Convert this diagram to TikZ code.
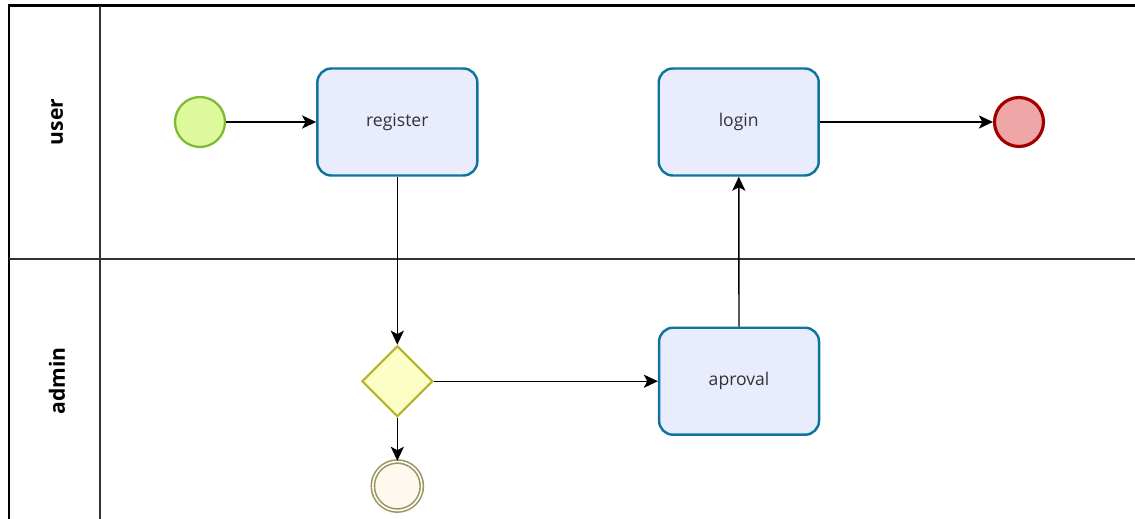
\documentclass[tikz,border=0pt]{standalone}
\usepackage{fontspec}
\setmainfont{Open Sans}
\usepackage{xcolor}
\usetikzlibrary{positioning,arrows.meta,shapes}

\definecolor{taskfill}{HTML}{E8ECFD}
\definecolor{taskline}{HTML}{10739E}
\definecolor{startfill}{HTML}{DDF99B}
\definecolor{startline}{HTML}{7CBB32}
\definecolor{endfill}{HTML}{EEA6A6}
\definecolor{endline}{HTML}{A20000}
\definecolor{gatefill}{HTML}{FDFDC6}
\definecolor{gateline}{HTML}{B4B42D}
\definecolor{stopfill}{HTML}{FDF9EE}
\definecolor{stopline}{HTML}{9A9560}

\begin{document}
\begin{tikzpicture}[x=0.02cm, y=-0.02cm, >={Stealth[length=8pt,width=7.5pt,inset=2pt]}, node distance=1.5cm,
  task/.style={rectangle, rounded corners=0.28cm, draw=taskline, fill=taskfill, line width=1.4pt, minimum width=3.2cm, minimum height=2.14cm, text=black!80, font=\fontsize{10}{12}\selectfont},
  startev/.style={circle, draw=startline, fill=startfill, line width=1.3pt, minimum size=1.0cm, inner sep=0pt},
  endev/.style={circle, draw=endline, fill=endfill, line width=1.8pt, minimum size=0.98cm, inner sep=0pt},
  gate/.style={diamond, draw=gateline, fill=gatefill, line width=1.2pt, minimum size=1.42cm, inner sep=0pt},
  stopev/.style={circle, draw=stopline, double=white, double distance=0.9pt, line width=0.9pt, fill=stopfill, minimum size=0.98cm, inner sep=0pt},
  lane/.style={rotate=90, font=\fontsize{12}{14}\selectfont\bfseries},
  flow/.style={->, line width=0.8pt}]
\useasboundingbox (0,0) rectangle (1135,519);

% pool and lanes
\draw[line width=1.7pt] (9,519) -- (9,6) -- (1135,6);
\draw[line width=0.9pt, black!80] (100,6) -- (100,519);
\draw[line width=0.9pt, black!80] (9,259) -- (1135,259);
\node[lane] (userlane) at (57,122) {user};
\node[lane] (adminlane) at (57,381) {admin};

% user lane
\node[startev] (start) at (200,122) {};
\node[task, right=1.8cm of start] (register) {register};
\node[task, right=3.58cm of register] (login) {login};
\node[endev, right=3.46cm of login] (done) {};

% admin lane
\node[gate, below=3.36cm of register] (check) {};
\node[task, right=4.48cm of check] (aproval) {aproval};
\node[stopev, below=0.86cm of check] (reject) {};

\draw[flow] (start) -- (register);
\draw[flow] (register) -- (check);
\draw[flow] (check) -- (aproval);
\draw[flow] (check) -- (reject);
\draw[flow] (aproval) -- (login);
\draw[flow] (login) -- (done);
\end{tikzpicture}
\end{document}
